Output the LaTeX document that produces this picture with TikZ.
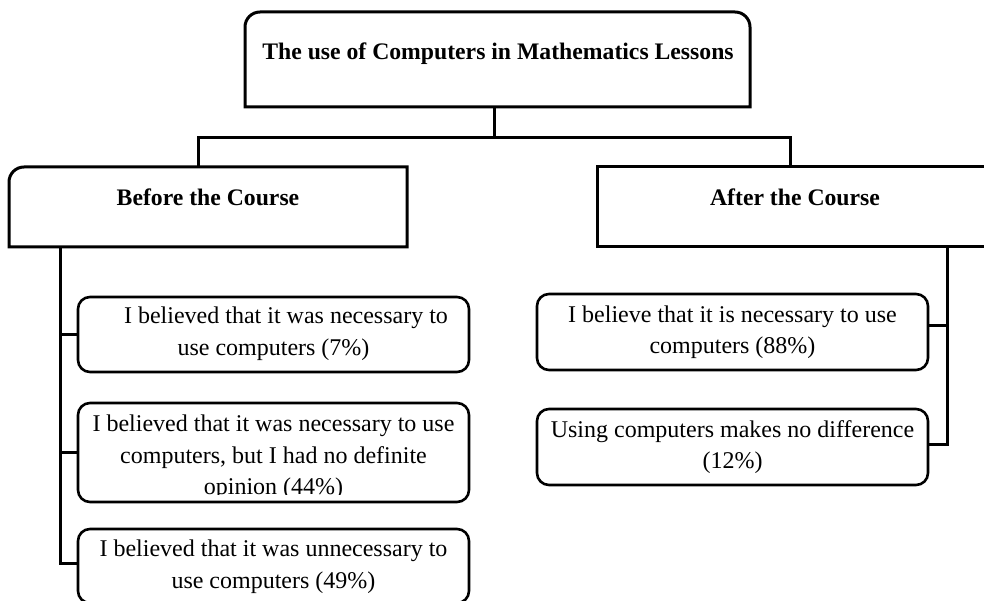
\documentclass[tikz,border=0pt]{standalone}
\usepackage{fontspec}
\setmainfont{Liberation Serif}
\begin{document}
\begin{tikzpicture}[x=1pt,y=1pt,
  hdr/.style={shape=rectangle,draw=none,inner sep=0pt,outer sep=0pt},
  hdrline/.style={line width=3pt,line join=miter},
  child/.style={shape=rectangle,draw,line width=2.6pt,rounded corners=12pt,inner sep=0pt,outer sep=0pt,minimum width=391pt},
  conn/.style={line width=3pt,line join=miter},
  txt/.style={inner sep=0pt,outer sep=0pt,align=center,font=\fontsize{24}{31.5}\selectfont},
  btxt/.style={inner sep=0pt,outer sep=0pt,font=\fontsize{23.7}{30}\selectfont\bfseries}]
\useasboundingbox (0,0) rectangle (984,600);
\fill[white] (0,0) rectangle (984,600);

% header boxes (invisible nodes, borders drawn below)
\node[hdr,minimum width=505pt,minimum height=95pt] (top) at (497.5,540.5) {};
\node[hdr,minimum width=398pt,minimum height=80pt] (before) at (208,393) {};
\node[hdr,minimum width=396pt,minimum height=80pt] (after) at (795,393) {};

\draw[hdrline] (top.south west) -- ([yshift=-15pt]top.north west)
  arc[start angle=180,end angle=90,radius=15pt] -- ([xshift=-15pt]top.north east)
  arc[start angle=90,end angle=0,radius=15pt] -- (top.south east) -- cycle;
\draw[hdrline] (before.south west) -- ([yshift=-15pt]before.north west)
  arc[start angle=180,end angle=90,radius=15pt] -- (before.north east)
  -- (before.south east) -- cycle;
\draw[hdrline] (after.south west) -- (after.north west) -- (after.north east)
  -- (after.south east) -- cycle;

\node[btxt,anchor=base] (toptext) at (498,540) {The use of Computers in Mathematics Lessons};
\node[btxt,anchor=base] (beforetext) at (208,394) {Before the Course};
\node[btxt,anchor=base] (aftertext) at (795,394) {After the Course};

% child boxes
\node[child,minimum height=75pt] (b1) at (273.5,265.5) {};
\node[child,minimum height=99pt] (b2) at (273.5,147.5) {};
\node[child,minimum height=74pt] (b3) at (273.5,34) {};
\node[child,minimum height=76pt] (a1) at (732.5,268) {};
\node[child,minimum height=76pt] (a2) at (732.5,153) {};

\node[txt] (t1) at (273.5,266.1) {\hspace*{25pt}I believed that it was necessary to\\use computers (7\%)};
\begin{scope}
  \clip (80,106) rectangle (467,196);
  \node[txt] (t2) at (273.5,142.6) {I believed that it was necessary to use\\computers, but I had no definite\\opinion (44\%)};
\end{scope}
\node[txt] (t3) at (273.5,33.1) {I believed that it was unnecessary to\\use computers (49\%)};
\node[txt] (t4) at (732.5,267.8) {I believe that it is necessary to use\\computers (88\%)};
\node[txt] (t5) at (732.5,152.8) {Using computers makes no difference\\(12\%)};

% connectors
\coordinate (jT) at (494,462);
\coordinate (jL) at (198,462);
\coordinate (jR) at (790,462);
\coordinate (vL) at (60,0);
\coordinate (vR) at (947,0);
\coordinate (a1e) at ([yshift=6pt]a1.east);
\coordinate (a2e) at ([yshift=3pt]a2.east);
\coordinate (b3e) at (b3.west |- 0,37);

\draw[conn] (jT |- top.south) -- (jT);
\draw[conn] (jL |- before.north) -- (jL) -- (jR) -- (jR |- after.north);
\draw[conn] (vL |- before.south) -- (vL |- b3e) -- (b3e);
\draw[conn] (vL |- b1.west) -- (b1.west);
\draw[conn] (vL |- b2.west) -- (b2.west);
\draw[conn] (vR |- after.south) -- (vR |- a2e) -- (a2e);
\draw[conn] (vR |- a1e) -- (a1e);
\end{tikzpicture}
\end{document}
